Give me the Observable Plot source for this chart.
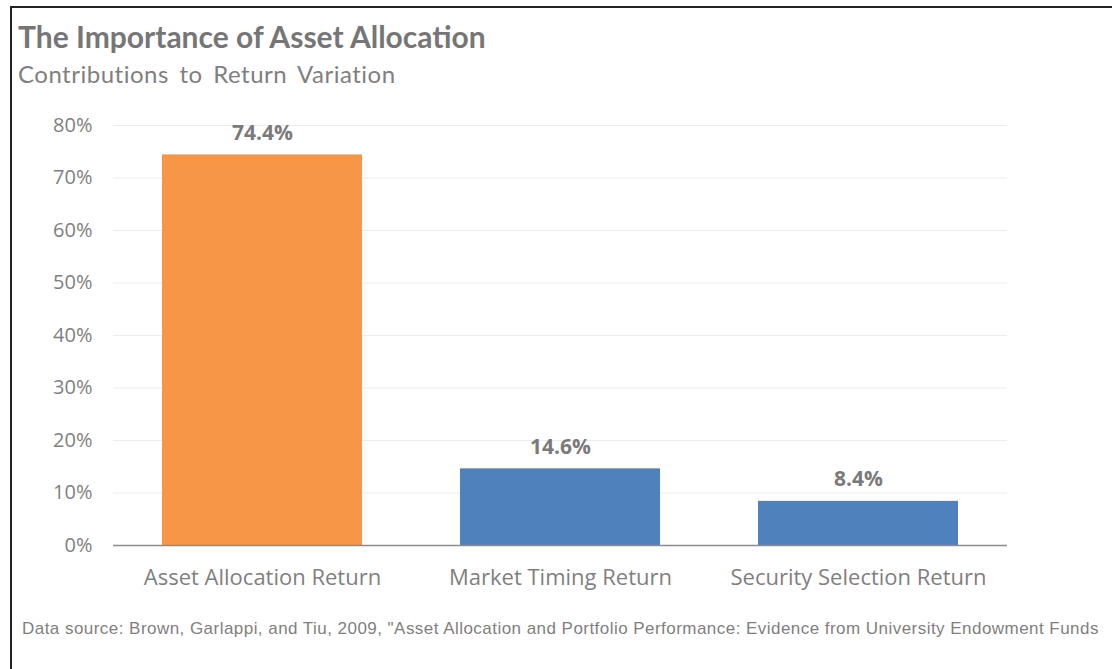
<!DOCTYPE html>
<html>
<head>
<meta charset="utf-8">
<script src="https://cdn.jsdelivr.net/npm/d3@7"></script>
<script src="https://cdn.jsdelivr.net/npm/@observablehq/plot@0.6"></script>
<style>
  html, body { margin: 0; padding: 0; background: #fff; }
  body { width: 1112px; height: 669px; position: relative; overflow: hidden; }
  #frame { position: absolute; left: 10px; top: 6px; right: -5px; bottom: -5px; border-top: 2px solid #222; border-left: 2px solid #222; }
  #title { position: absolute; left: 18px; top: 18px; font-family: Lato, sans-serif; font-weight: 700; font-size: 30px; color: #767676; white-space: nowrap; }
  #subtitle { position: absolute; left: 18px; top: 59px; font-family: Lato, sans-serif; font-size: 24px; letter-spacing: 0.5px; word-spacing: 4px; color: #7f7f7f; white-space: nowrap; }
  #chart { position: absolute; left: 0; top: 100px; }
  #chart svg text { font-family: "Open Sans", sans-serif; }
  #chart svg g[aria-label="x-axis tick label"] text { font-size: 22px; }
  #caption { position: absolute; left: 22px; top: 619px; font-family: "Liberation Sans", sans-serif; font-size: 17px; letter-spacing: 0.46px; color: #7f7f7f; white-space: nowrap; }
</style>
</head>
<body>
<div id="frame"></div>
<div id="title">The Importance of Asset Allocation</div>
<div id="subtitle">Contributions to Return Variation</div>
<div id="chart"></div>
<div id="caption">Data source: Brown, Garlappi, and Tiu, 2009,  "Asset Allocation and Portfolio Performance:  Evidence from University Endowment Funds</div>
<script>
const categories = ["Asset Allocation Return", "Market Timing Return", "Security Selection Return"];
const values = [74.4, 14.6, 8.4];
const barColors = ["#f79646", "#4f81bd", "#4f81bd"];
const yTicks = [0, 10, 20, 30, 40, 50, 60, 70, 80];

const data = categories.map((c, i) => ({cat: c, value: values[i], color: barColors[i]}));

const chart = Plot.plot({
  width: 1112,
  height: 510,
  marginTop: 25,
  marginBottom: 65,
  marginLeft: 113,
  marginRight: 105,
  style: {fontFamily: "Open Sans, sans-serif", fontSize: "20px", color: "#7f7f7f", background: "transparent"},
  x: {domain: categories, paddingInner: 0.33, paddingOuter: 0.165, label: null, tickSize: 0, tickPadding: 24},
  y: {domain: [0, 80], ticks: yTicks, tickFormat: d => d + "%", label: null, tickSize: 0, tickPadding: 21},
  color: {type: "identity"},
  marks: [
    Plot.ruleY(yTicks.filter(d => d > 0), {stroke: "#ececec", strokeWidth: 1}),
    Plot.barY(data, {x: "cat", y: "value", fill: "color"}),
    Plot.ruleY([0], {stroke: "#8c8c8c", strokeWidth: 1.5}),
    Plot.text(data, {x: "cat", y: "value", text: d => d.value.toFixed(1) + "%", dy: -22, fontWeight: "bold", fontSize: 21, fill: "#7a7a7a"})
  ]
});
document.getElementById("chart").appendChild(chart);
</script>
</body>
</html>
